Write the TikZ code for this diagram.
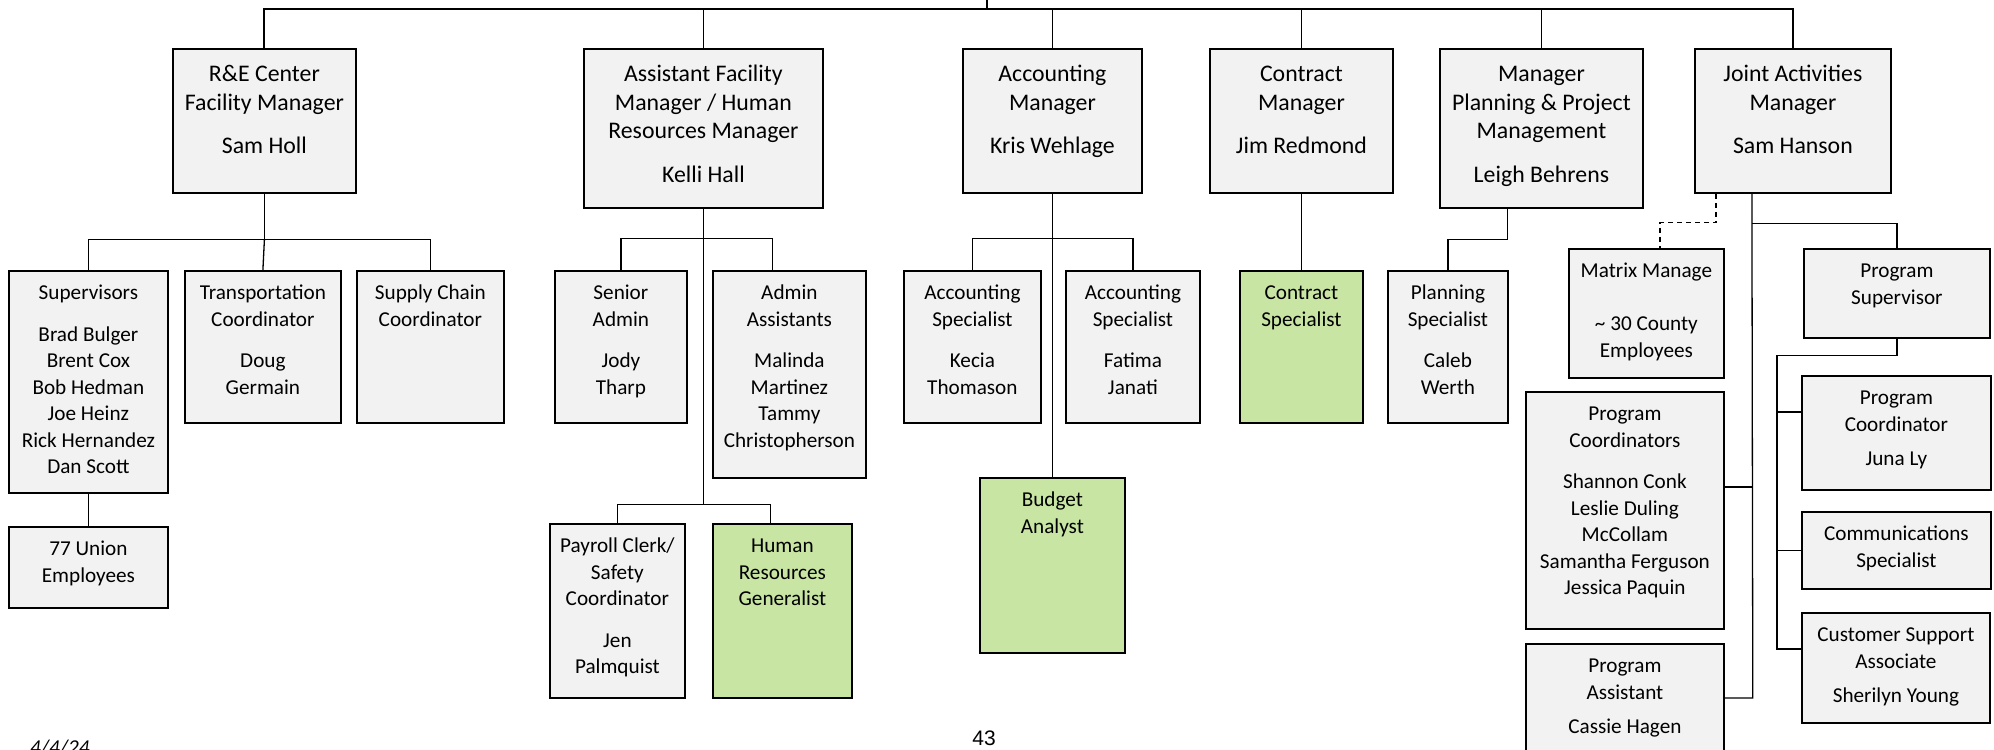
\documentclass[tikz,border=0pt]{standalone}
\usepackage{fontspec}
\setmainfont{Carlito}
\newfontfamily\pagefont{Liberation Sans}
\usetikzlibrary{positioning, calc}

\definecolor{boxfill}{HTML}{F2F2F2}
\definecolor{hirefill}{HTML}{C8E5A3}

\newlength{\pxlen}
\setlength{\pxlen}{0.5pt}
\newlength{\firstbase}
% box text: width, height (in px), lines
\newcommand{\boxtxt}[3]{\parbox[c][#2\pxlen][t]{#1\pxlen}{\centering\rule{0pt}{\firstbase}#3}}

\begin{document}
\begin{tikzpicture}[
    x=0.5pt, y=-0.5pt,
    box/.style={draw=black, line width=0.9pt, fill=boxfill, anchor=north west, inner sep=0pt},
    lead/.style={box, font=\fontsize{11.9}{14.25}\selectfont\setlength{\firstbase}{16.5pt}},
    staff/.style={box, font=\fontsize{10.6}{13.25}\selectfont\setlength{\firstbase}{14.5pt}},
    hire/.style={fill=hirefill},
    link/.style={draw=black, line width=0.65pt},
    bus/.style={draw=black, line width=1pt}
]
\useasboundingbox (0,0) rectangle (1994,750);

% --- Managers
\node[lead] (rec) at (172,48) {\boxtxt{183}{144}{R\&E Center\\Facility Manager\\[7.5pt]Sam Holl}};
\node[lead] (asst) at (583,48) {\boxtxt{239}{159}{Assistant Facility\\Manager / Human\\Resources Manager\\[7.5pt]Kelli Hall}};
\node[lead] (acct) at (962,48) {\boxtxt{179}{144}{Accounting\\Manager\\[7.5pt]Kris Wehlage}};
\node[lead] (contr) at (1209,48) {\boxtxt{183}{144}{Contract\\Manager\\[7.5pt]Jim Redmond}};
\node[lead] (plan) at (1439,48) {\boxtxt{203}{159}{Manager\\Planning \& Project\\Management\\[7.5pt]Leigh Behrens}};
\node[lead] (joint) at (1694,48) {\boxtxt{196}{144}{Joint Activities\\Manager\\[7.5pt]Sam Hanson}};

% --- R&E Center staff
\node[staff] (sup) at (8,270) {\boxtxt{159}{222}{Supervisors\\[7.5pt]Brad Bulger\\Brent Cox\\Bob Hedman\\Joe Heinz\\Rick Hernandez\\Dan Scott}};
\node[staff] (trans) at (184,270) {\boxtxt{156}{152}{Transportation\\Coordinator\\[7.5pt]Doug\\Germain}};
\node[staff] (supply) at (356,270) {\boxtxt{147}{152}{Supply Chain\\Coordinator}};
\node[staff] (union) at (8,526) {\boxtxt{159}{81}{77 Union\\Employees}};

% --- Assistant / HR staff
\node[staff] (senior) at (554,270) {\boxtxt{132}{152}{Senior\\Admin\\[7.5pt]Jody\\Tharp}};
\node[staff] (admin) at (712,270) {\boxtxt{153}{207}{Admin\\Assistants\\[7.5pt]Malinda\\Martinez\\Tammy\\Christopherson}};
\node[staff] (payroll) at (549,523) {\boxtxt{135}{174}{Payroll Clerk/\\Safety\\Coordinator\\[7.5pt]Jen\\Palmquist}};
\node[staff, hire] (hrgen) at (712,523) {\boxtxt{139}{174}{Human\\Resources\\Generalist}};

% --- Accounting, contract, planning staff
\node[staff] (acs1) at (903,270) {\boxtxt{137}{152}{Accounting\\Specialist\\[7.5pt]Kecia\\Thomason}};
\node[staff] (acs2) at (1065,270) {\boxtxt{134}{152}{Accounting\\Specialist\\[7.5pt]Fatima\\Janati}};
\node[staff, hire] (budget) at (979,477) {\boxtxt{145}{175}{Budget\\Analyst}};
\node[staff, hire] (cspec) at (1239,270) {\boxtxt{123}{152}{Contract\\Specialist}};
\node[staff] (pspec) at (1387,270) {\boxtxt{120}{152}{Planning\\Specialist\\[7.5pt]Caleb\\Werth}};

% --- Joint activities staff
\node[staff] (matrix) at (1568,248) {\boxtxt{155}{129}{Matrix Manage\\[13.25pt]\textasciitilde{} 30 County\\Employees}};
\node[staff] (pcoords) at (1525,391) {\boxtxt{198}{237}{Program\\Coordinators\\[7.5pt]Shannon Conk\\Leslie Duling\\McCollam\\Samantha Ferguson\\Jessica Paquin}};
\node[staff] (passt) at (1525,643) {\boxtxt{198}{130}{Program\\Assistant\\[4pt]Cassie Hagen}};
\node[staff] (psup) at (1803,248) {\boxtxt{186}{89}{Program\\Supervisor}};
\node[staff] (pcoord) at (1801,375) {\boxtxt{189}{114}{Program\\Coordinator\\[4pt]Juna Ly}};
\node[staff] (comm) at (1801,511) {\boxtxt{189}{77}{Communications\\Specialist}};
\node[staff] (cust) at (1801,612) {\boxtxt{188}{110}{Customer Support\\Associate\\[4pt]Sherilyn Young}};

% --- Page notes
\node[anchor=base west, font=\fontsize{10.6}{13}\selectfont\itshape] (date) at (23,754) {4/4/24};
\node[anchor=base, font=\pagefont\fontsize{10.5}{12}\selectfont] (page) at (984,745) {43};

% --- Top bus
\coordinate (up) at (987,0);
\coordinate (bus) at (987,9);
\draw[bus] (rec.north) |- (bus) -| (joint.north);
\draw[bus] (up) -- (bus);
\foreach \n in {asst,acct,contr,plan}
    \draw[link] (\n.north) -- (\n.north |- bus);

% --- R&E Center
\draw[link] (rec.south) -- ++(0,46) coordinate (recb);
\draw[link] (sup.north) |- (recb) -| (supply.north);
\draw[link] (recb) -- (trans.north);
\draw[link] (sup.south) -- (union.north);

% --- Assistant / HR
\draw[link] (asst.south) -- ++(0,296) coordinate (asstb);
\draw[link] (senior.north) |- ($(asst.south)+(0,30)$) -| ($(admin.north)+(-17,0)$);
\draw[link] (payroll.north) |- (asstb) -| ($(hrgen.north)+(-12,0)$);

% --- Accounting
\draw[link] (acct.south) -- (budget.north);
\draw[link] (acs1.north) |- ($(acct.south)+(0,45)$) -| (acs2.north);

% --- Contract and planning
\draw[link] (contr.south) -- (cspec.north);
\draw[link] ($(plan.south)+(-34,0)$) -- ++(0,31) -| (pspec.north);

% --- Joint activities
\coordinate (js) at ($(joint.south)+(-41,0)$);
\draw[link] (js) -- ($(passt.north east)+(28,55)$) -- ($(passt.north east)+(0,55)$);
\draw[link] ($(pcoords.north east)+(28,96)$) -- ($(pcoords.north east)+(0,96)$);
\draw[link] (js) ++(0,30) -| (psup.north);
\draw[link, dash pattern=on 2.5pt off 2pt] ($(joint.south west)+(22,0)$) -- ++(0,29) -| ($(matrix.north)+(13.5,0)$);

% --- Program supervisor team
\draw[link] (psup.south) -- ++(0,17) -| ($(cust.north west)+(-24,37)$) -- ++(24,0);
\draw[link] ($(pcoord.north west)+(-24,37)$) -- ++(24,0);
\draw[link] (comm.west) -- ++(-24,0);

\end{tikzpicture}
\end{document}
